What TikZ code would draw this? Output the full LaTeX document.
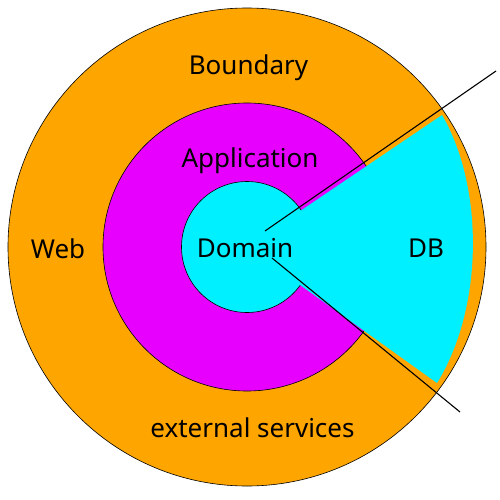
\documentclass[tikz,border=0pt]{standalone}
\usepackage{fontspec}
\setmainfont{Noto Sans}
\definecolor{ringorange}{HTML}{FFA500}
\definecolor{ringmagenta}{HTML}{E800FF}
\definecolor{ringcyan}{HTML}{00F0FF}
\begin{document}
\begin{tikzpicture}[x=1pt, y=1pt, font=\fontsize{26}{30}\selectfont]
  \useasboundingbox (-247,-252) rectangle (253,247);
  % Rings
  \node (boundary) [circle, draw, line width=0.6pt, fill=ringorange, minimum size=478pt, inner sep=0pt] at (0,0) {};
  \node (application) [circle, draw, line width=0.6pt, fill=ringmagenta, minimum size=288pt, inner sep=0pt] at (0,0) {};
  \node (domain) [circle, draw, line width=0.6pt, fill=ringcyan, minimum size=131pt, inner sep=0pt] at (0,0) {};
  % DB wedge
  \fill[ringcyan] (domain.center) -- (195,132) .. controls (237,60) and (237,-60) .. (190,-136) -- cycle;
  % Lines
  \coordinate (upA) at (18,16);
  \coordinate (upB) at (249,176);
  \coordinate (lowA) at (25,-11);
  \coordinate (lowB) at (213,-165);
  \draw[line width=1.1pt] (upA) -- (upB);
  \draw[line width=1.1pt] (lowA) -- (lowB);
  % Labels
  \node (boundaryL) [anchor=base] at (1.5,173) {Boundary};
  \node (applicationL) [anchor=base] at (3,80) {Application};
  \node (domainL) [anchor=base] at (-2,-10) {Domain};
  \node (webL) [anchor=base] at (-189,-11) {Web};
  \node (dbL) [anchor=base] at (179,-10) {DB};
  \node (externalL) [anchor=base] at (5.5,-190) {external services};
\end{tikzpicture}
\end{document}
